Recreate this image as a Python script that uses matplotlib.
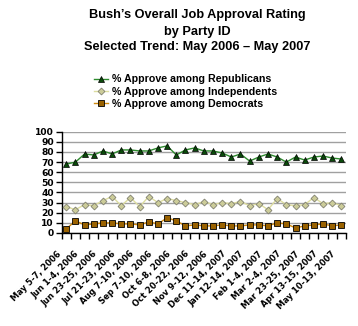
import matplotlib
matplotlib.use("Agg")
import matplotlib.pyplot as plt
import matplotlib.transforms as mtransforms
import numpy as np

dates = ["May 5-7, 2006", "", "Jun 1-4, 2006", "", "Jun 23-25, 2006", "",
         "Jul 21-23, 2006", "", "Aug 7-10, 2006", "", "Sep 7-10, 2006", "",
         "Oct 6-8, 2006", "", "Oct 20-22, 2006", "", "Nov 9-12, 2006", "",
         "Dec 11-14, 2007", "", "Jan 12-14, 2007", "", "Feb 1-4, 2007", "",
         "Mar 2-4, 2007", "", "Mar 23-25, 2007", "", "Apr 13-15, 2007", "",
         "May 10-13, 2007"]
republicans = [68, 70, 78, 77, 81, 78, 82, 82, 81, 81, 84, 86, 77, 82, 84, 81,
               81, 79, 75, 78, 71, 75, 78, 75, 70, 75, 72, 75, 76, 74, 73]
independents = [26, 23, 28, 27, 32, 36, 27, 35, 26, 36, 30, 34, 32, 30, 28, 31,
                28, 30, 29, 31, 27, 29, 23, 34, 28, 27, 28, 35, 29, 30, 27]
democrats = [4, 12, 8, 9, 10, 10, 9, 9, 8, 11, 9, 15, 12, 7, 8, 7,
             7, 8, 7, 7, 8, 8, 7, 10, 9, 5, 7, 8, 9, 7, 8]
series_names = ["% Approve among Republicans", "% Approve among Independents",
                "% Approve among Democrats"]
yticks = [0, 10, 20, 30, 40, 50, 60, 70, 80, 90, 100]

plt.rcParams['font.family'] = ['Liberation Sans', 'DejaVu Sans']
plt.rcParams['font.weight'] = 'bold'

fig = plt.figure(figsize=(3.58, 3.26), dpi=100)
ax = fig.add_axes([0.1723, 0.2853, 0.794, 0.3107])

x = np.arange(len(dates))
ax.plot(x, republicans, color="#2E8B2E", lw=1.0, marker="^", ms=5.0,
        mfc="#0A4A0A", mec="#000000", mew=0.5, label=series_names[0], zorder=5)
ax.plot(x, independents, color="#DDDDA0", lw=1.0, marker="D", ms=3.5,
        mfc="#CCCC99", mec="#808070", mew=0.6, label=series_names[1], zorder=4)
ax.plot(x, democrats, color="#D08A10", lw=1.0, marker="s", ms=3.9,
        mfc="#9A6200", mec="#000000", mew=0.6, label=series_names[2], zorder=4)

ax.set_ylim(0, 100)
ax.set_xlim(-0.5, len(dates) - 0.5)
ax.set_yticks(yticks)
ax.set_yticklabels([str(v) for v in yticks], fontsize=6.6, fontweight='bold',
                   family='DejaVu Sans')
ax.yaxis.grid(True, color="#A0A0A0", lw=1.0)
ax.set_axisbelow(True)

lab_idx = [i for i, d in enumerate(dates) if d]
ax.set_xticks(lab_idx)
ax.set_xticks(np.arange(-0.5, len(dates)), minor=True)
ax.tick_params(axis='x', which='major', length=0, pad=6)
ax.tick_params(axis='x', which='minor', length=4, width=1, color='black')
ax.tick_params(axis='y', length=4, width=1, pad=1.5)
ax.set_xticklabels([dates[i] for i in lab_idx], rotation=45, ha='right',
                   va='top', rotation_mode='anchor', fontsize=6.0,
                   fontweight='bold', family='DejaVu Sans')
offset = mtransforms.ScaledTranslation(-10 / 100, -8 / 100, fig.dpi_scale_trans)
for lab in ax.get_xticklabels():
    lab.set_transform(lab.get_transform() + offset)
for s in ['top', 'right']:
    ax.spines[s].set_visible(False)
for s in ['left', 'bottom']:
    ax.spines[s].set_linewidth(1.0)
    ax.spines[s].set_color('black')

title_kw = dict(ha='center', va='center', fontsize=9.2, fontweight='bold')
fig.text(0.55, 0.954, "Bush\u2019s Overall Job Approval Rating", **title_kw)
fig.text(0.55, 0.903, "by Party ID", **title_kw)
fig.text(0.55, 0.856, "Selected Trend: May 2006 \u2013 May 2007", **title_kw)

fig.legend(loc='center left', bbox_to_anchor=(0.262, 0.719), frameon=False,
           handlelength=1.35, handletextpad=0.35,
           labelspacing=0.2, borderpad=0, borderaxespad=0,
           prop={'weight': 'bold', 'size': 7.7})

fig.savefig("out.png", dpi=100)
